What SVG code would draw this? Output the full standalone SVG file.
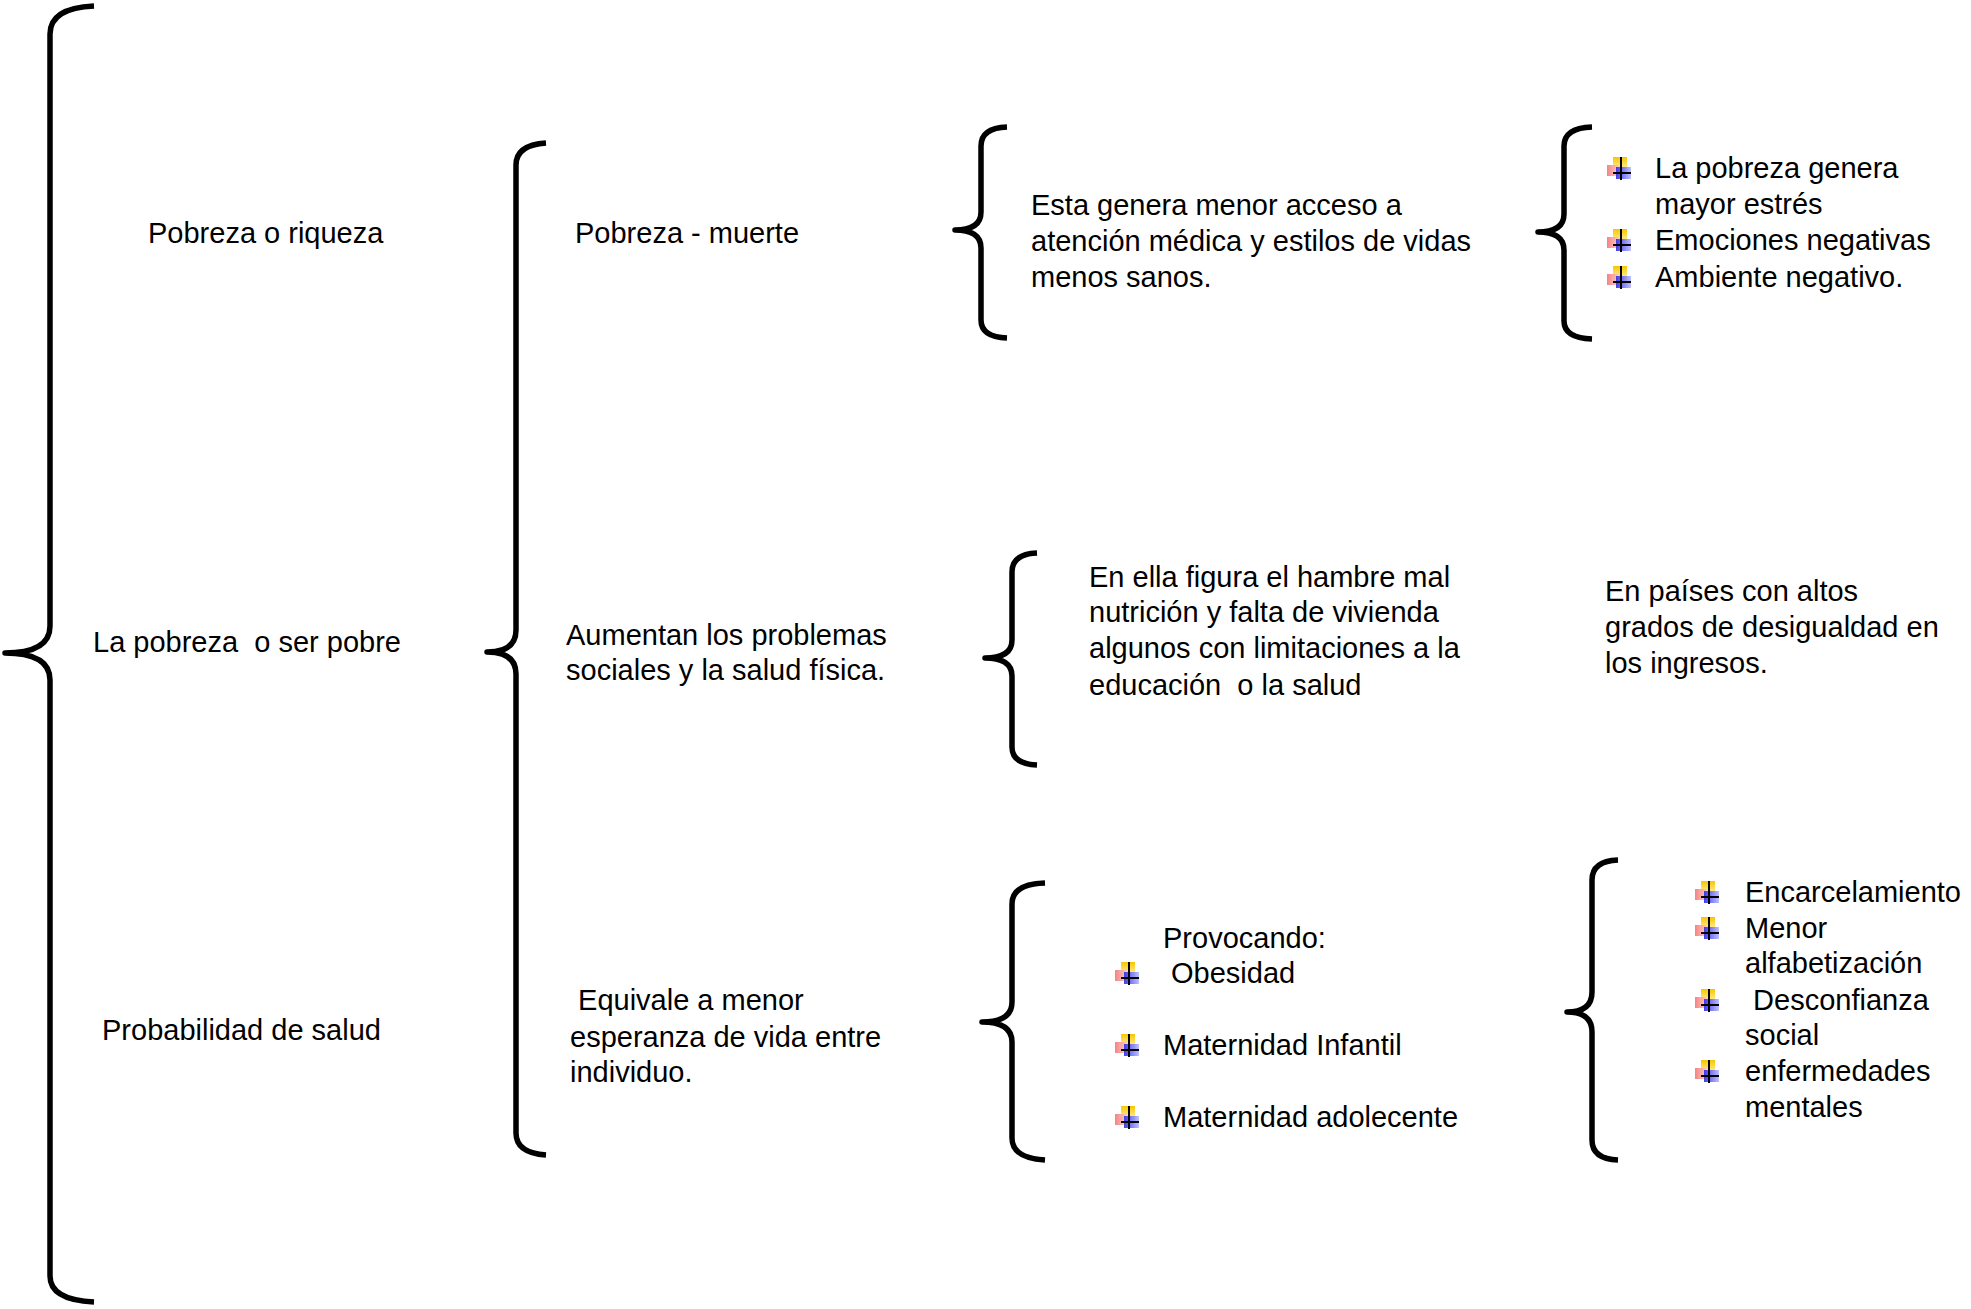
<svg xmlns="http://www.w3.org/2000/svg" xmlns:xlink="http://www.w3.org/1999/xlink" width="1971" height="1309" viewBox="0 0 1971 1309">
<style>
text{font-family:"Liberation Sans",Arial,sans-serif;font-size:29px;fill:#000;white-space:pre}
.brace{fill:none;stroke:#000;stroke-width:5.5;stroke-linecap:butt;stroke-linejoin:round}
</style>
<defs>
<linearGradient id="gy" x1="0" y1="0" x2="0" y2="1"><stop offset="0" stop-color="#f7c600"/><stop offset="1" stop-color="#fff2a8"/></linearGradient>
<linearGradient id="gr" x1="0" y1="0" x2="1" y2="0"><stop offset="0" stop-color="#f26d6d"/><stop offset="1" stop-color="#ffd0d0"/></linearGradient>
<linearGradient id="gb" x1="0" y1="0" x2="1" y2="0"><stop offset="0" stop-color="#2a2ae6"/><stop offset="1" stop-color="#b8b8ff"/></linearGradient>
<symbol id="bullet" viewBox="0 0 24 23" width="24" height="23" overflow="visible">
<rect x="6" y="0" width="14" height="13" fill="url(#gy)"/>
<rect x="0" y="8" width="13" height="11" fill="url(#gr)" opacity="0.85"/>
<rect x="9" y="10" width="15" height="12" fill="url(#gb)" opacity="0.9"/>
<rect x="13" y="0" width="2" height="23" fill="#000"/>
<rect x="6" y="15" width="18" height="2" fill="#000"/>
</symbol>
</defs>
<rect width="1971" height="1309" fill="#fff"/>
<g id="connectors">
<path class="brace" d="M94,6 Q50,8 50,34 L50,626 Q50,653 5,653 Q50,653 50,680 L50,1276 Q50,1300 94,1302"/>
<path class="brace" d="M546,143 Q516,145 516,165 L516,630 Q516,652 487,652 Q516,652 516,674 L516,1133 Q516,1153 546,1155"/>
<path class="brace" d="M1007,127 Q981,128 981,146 L981,212 Q981,230 955,230 Q981,230 981,248 L981,320 Q981,337 1007,338"/>
<path class="brace" d="M1592,127 Q1564,128 1564,146 L1564,214 Q1564,232 1538,232 Q1564,232 1564,250 L1564,321 Q1564,338 1592,339"/>
<path class="brace" d="M1037,553 Q1012,554 1012,572 L1012,640 Q1012,658 985,658 Q1012,658 1012,676 L1012,747 Q1012,764 1037,765"/>
<path class="brace" d="M1045,883 Q1012,884 1012,904 L1012,1002 Q1012,1022 982,1022 Q1012,1022 1012,1042 L1012,1138 Q1012,1158 1045,1160"/>
<path class="brace" d="M1618,860 Q1592,861 1592,880 L1592,992 Q1592,1012 1567,1012 Q1592,1012 1592,1032 L1592,1140 Q1592,1159 1618,1160"/>
</g>
<g id="n-pobreza-riqueza"><text x="148" y="243">Pobreza o riqueza</text></g>
<g id="n-la-pobreza"><text x="93" y="652">La pobreza  o ser pobre</text></g>
<g id="n-probabilidad"><text x="102" y="1040">Probabilidad de salud</text></g>
<g id="n-pobreza-muerte"><text x="575" y="243">Pobreza - muerte</text></g>
<g id="n-aumentan"><text x="566" y="645">Aumentan los problemas</text><text x="566" y="680">sociales y la salud física.</text></g>
<g id="n-equivale"><text x="570" y="1010"> Equivale a menor</text><text x="570" y="1047">esperanza de vida entre</text><text x="570" y="1082">individuo.</text></g>
<g id="n-esta-genera"><text x="1031" y="215">Esta genera menor acceso a</text><text x="1031" y="251">atención médica y estilos de vidas</text><text x="1031" y="287">menos sanos.</text></g>
<g id="n-en-ella"><text x="1089" y="587">En ella figura el hambre mal</text><text x="1089" y="622">nutrición y falta de vivienda</text><text x="1089" y="658">algunos con limitaciones a la</text><text x="1089" y="695">educación  o la salud</text></g>
<g id="n-provocando">
<text x="1163" y="948">Provocando:</text>
<use href="#bullet" x="1115" y="962"/><text x="1163" y="983"> Obesidad</text>
<use href="#bullet" x="1115" y="1034"/><text x="1163" y="1055">Maternidad Infantil</text>
<use href="#bullet" x="1115" y="1106"/><text x="1163" y="1127">Maternidad adolecente</text>
</g>
<g id="n-estres">
<use href="#bullet" x="1607" y="157"/><text x="1655" y="178">La pobreza genera</text>
<text x="1655" y="214">mayor estrés</text>
<use href="#bullet" x="1607" y="229"/><text x="1655" y="250">Emociones negativas</text>
<use href="#bullet" x="1607" y="266"/><text x="1655" y="287">Ambiente negativo.</text>
</g>
<g id="n-paises"><text x="1605" y="601">En países con altos</text><text x="1605" y="637">grados de desigualdad en</text><text x="1605" y="673">los ingresos.</text></g>
<g id="n-encarcelamiento">
<use href="#bullet" x="1695" y="881"/><text x="1745" y="902">Encarcelamiento</text>
<use href="#bullet" x="1695" y="917"/><text x="1745" y="938">Menor</text>
<text x="1745" y="973">alfabetización</text>
<use href="#bullet" x="1695" y="989"/><text x="1745" y="1010"> Desconfianza</text>
<text x="1745" y="1045">social</text>
<use href="#bullet" x="1695" y="1060"/><text x="1745" y="1081">enfermedades</text>
<text x="1745" y="1117">mentales</text>
</g>
</svg>
